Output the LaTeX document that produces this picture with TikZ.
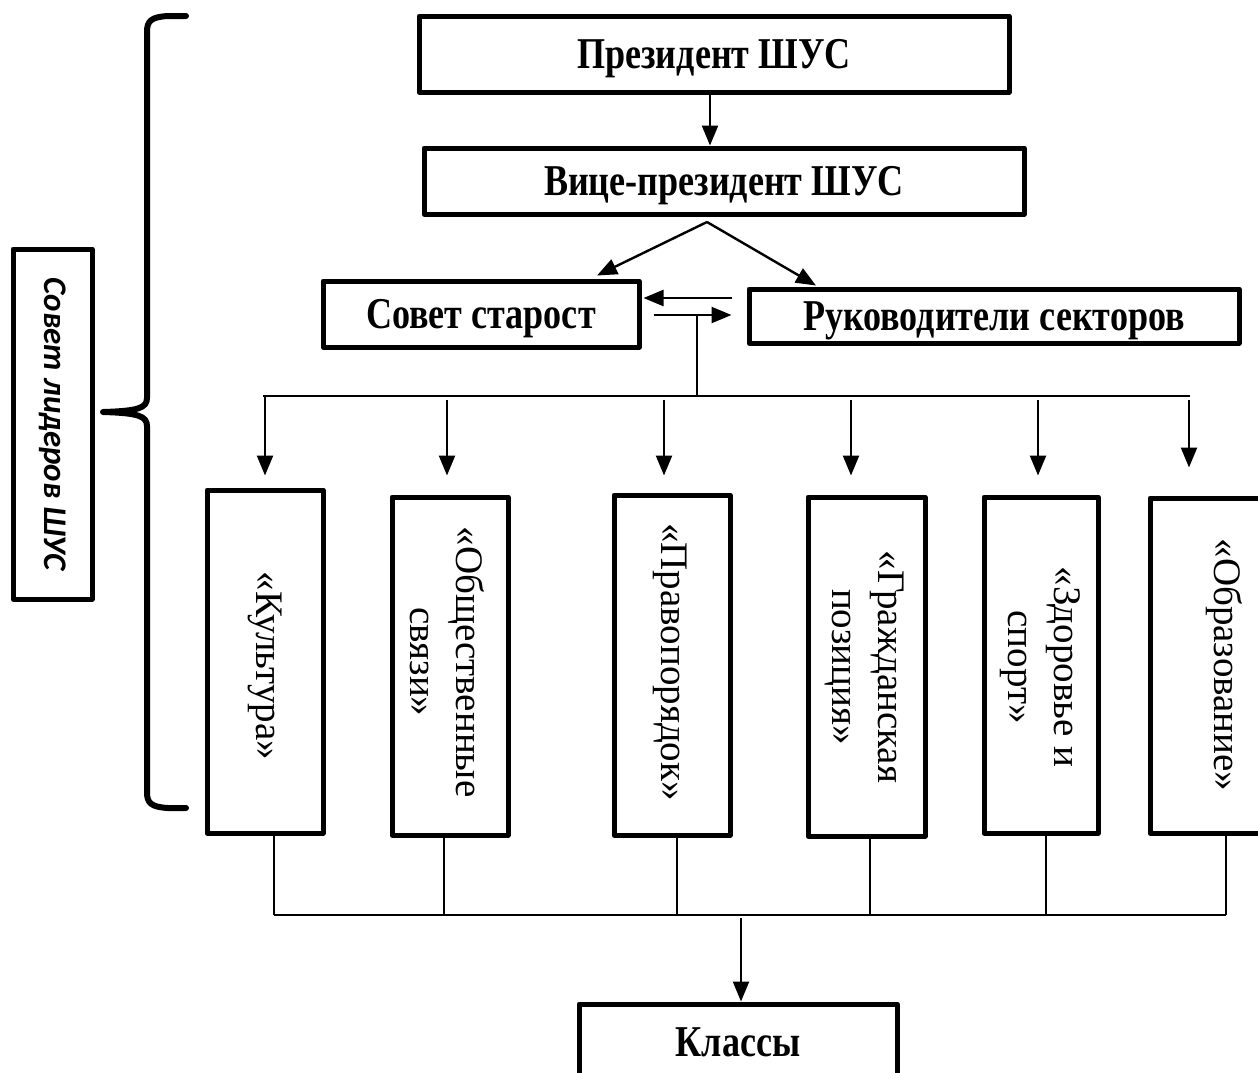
\documentclass[tikz,border=0pt]{standalone}
\usepackage{fontspec}
\setmainfont{Liberation Serif}
\newfontfamily\condfont{Liberation Serif}[FakeStretch=0.82,BoldFeatures={FakeStretch=0.82}]
\newfontfamily\lidfont{Carlito}
\usetikzlibrary{arrows.meta,calc}
\tikzset{
  box/.style={draw, line width=5pt, line join=round, inner sep=0pt},
  toplbl/.style={font=\condfont\bfseries\fontsize{44}{50}\selectfont, text depth=0pt},
  vlbl/.style={rotate=-90, align=center, inner sep=0pt, font=\fontsize{39}{46}\selectfont},
  arr/.style={-{Triangle[length=20pt,width=16pt]}, line width=2.4pt},
  thinline/.style={line width=1.6pt},
  brace/.style={line width=6pt, line cap=round, line join=round}
}
\begin{document}
\begin{tikzpicture}[x=1pt,y=-1pt]
\useasboundingbox (0,0) rectangle (1258,1072);
\clip (0,0) rectangle (1258,1072);

% top boxes
\node[box, toplbl, minimum width=590, minimum height=76] (pres) at (714,54) {Президент ШУС};
\node[box, toplbl, minimum width=600, minimum height=66] (vice) at (724,181) {Вице-президент ШУС};
\node[box, toplbl, minimum width=316, minimum height=66] (sovet) at (481,314) {Совет старост};
\node[box, toplbl, minimum width=490, minimum height=54] (ruk) at (994,316) {Руководители секторов};

% left label box and brace
\node[box, minimum width=79, minimum height=350] (lid) at (52.5,424) {};
\node[rotate=-90, inner sep=0pt, font=\lidfont\bfseries\itshape\fontsize{33}{38}\selectfont] (lidt) at (lid) {Совет лидеров ШУС};
\draw[brace] (186,16) -- (168,16) .. controls (151,17) and (147,21) .. (147,32)
  -- (147,398) .. controls (147,408) and (138,411) .. (103,412)
  .. controls (138,413) and (147,416) .. (147,426)
  -- (147,792) .. controls (147,803) and (151,807) .. (168,808) -- (186,808);

% sector boxes
\node[box, minimum width=116, minimum height=343] (kult) at (265,661.5) {};
\node[box, minimum width=116, minimum height=338] (obsh) at (450,666) {};
\node[box, minimum width=116, minimum height=340] (prav) at (672,665) {};
\node[box, minimum width=117, minimum height=339] (grazh) at (866.5,666.5) {};
\node[box, minimum width=114, minimum height=336] (zdor) at (1041,665) {};
\node[box, minimum width=150, minimum height=335] (obraz) at (1225,665.5) {};

\node[vlbl] (kultt) at (265,666) {«Культура»};
\node[vlbl] (obsht) at (447,662) {«Общественные\\связи»};
\node[vlbl] (pravt) at (670,662) {«Правопорядок»};
\node[vlbl] (grazht) at (864,667) {«Гражданская\\позиция»};
\node[vlbl] (zdort) at (1040,667) {«Здоровье и\\спорт»};
\node[vlbl] (obrazt) at (1224,665) {«Образование»};

% classes
\node[box, toplbl, minimum width=318, minimum height=76] (klass) at (738,1042) {Классы};

% connectors top
\draw[arr] ([xshift=-4pt]pres.south) -- ([xshift=-14pt]vice.north);
\coordinate (apex) at (707,222);
\draw[arr] (apex) -- ([xshift=116pt,yshift=3pt]sovet.north);
\draw[arr] (apex) -- ([xshift=-178pt,yshift=1pt]ruk.north);
\draw[arr] ([xshift=-15pt,yshift=18pt]ruk.west) -- ([xshift=2pt,yshift=16pt]sovet.east);
\draw[arr] ([xshift=12pt,yshift=-1pt]sovet.east) -- ([xshift=-15pt,yshift=1pt]ruk.west);

% bus to sectors
\coordinate (mid) at (697,315);
\coordinate (busL) at (263,396);
\coordinate (busR) at (1190,396);
\draw[thinline] (mid) -- (mid |- busL);
\draw[thinline] (busL) -- (busR);
\draw[arr] (kult.north |- busL) -- ([yshift=12pt]kult.north);
\draw[arr] ([xshift=-3pt,yshift=95pt]obsh.north) -- ([xshift=-3pt,yshift=19pt]obsh.north);
\draw[arr] ([xshift=-8pt,yshift=93pt]prav.north) -- ([xshift=-8pt,yshift=17pt]prav.north);
\draw[arr] ([xshift=-15.5pt,yshift=95pt]grazh.north) -- ([xshift=-15.5pt,yshift=19pt]grazh.north);
\draw[arr] ([xshift=-3pt,yshift=95pt]zdor.north) -- ([xshift=-3pt,yshift=19pt]zdor.north);
\draw[arr] ([xshift=-36pt,yshift=96pt]obraz.north) -- ([xshift=-36pt,yshift=28pt]obraz.north);

% bottom bus
\coordinate (bot) at (741,915);
\draw[thinline] ([xshift=9pt]kult.south) -- ([xshift=9pt]kult.south |- bot);
\draw[thinline] ([xshift=-6pt]obsh.south) -- ([xshift=-6pt]obsh.south |- bot);
\draw[thinline] ([xshift=5pt]prav.south) -- ([xshift=5pt]prav.south |- bot);
\draw[thinline] ([xshift=3.5pt]grazh.south) -- ([xshift=3.5pt]grazh.south |- bot);
\draw[thinline] ([xshift=5pt]zdor.south) -- ([xshift=5pt]zdor.south |- bot);
\draw[thinline] ([xshift=1pt]obraz.south) -- ([xshift=1pt]obraz.south |- bot);
\draw[thinline] ([xshift=9pt]kult.south |- bot) -- ([xshift=1pt]obraz.south |- bot);
\draw[arr] ([yshift=-3pt]bot) -- ([xshift=3pt]klass.north);
\end{tikzpicture}
\end{document}
